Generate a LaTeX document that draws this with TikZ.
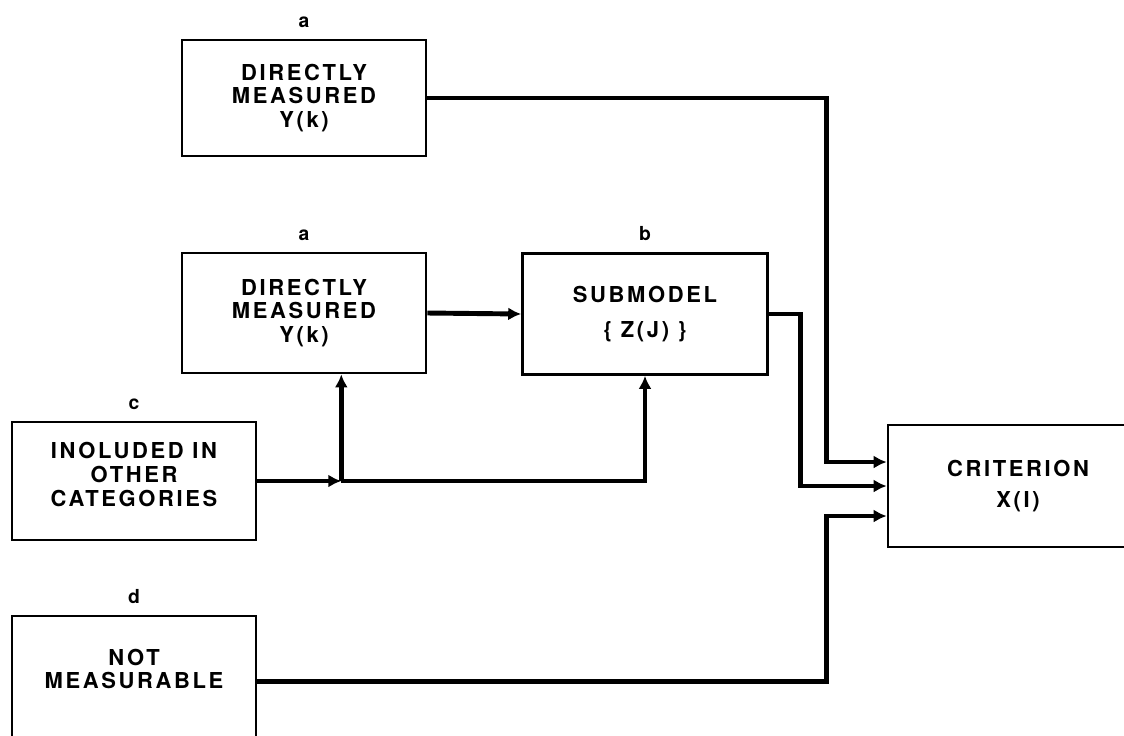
\documentclass[tikz,border=0pt]{standalone}
\usepackage{fontspec}
\setmainfont{TeX Gyre Heros}[LetterSpace=12]
\usetikzlibrary{arrows.meta,positioning,calc}
\tikzset{
  box/.style={draw,line width=1.5pt,align=center,font=\fontsize{12.5}{13.5}\selectfont\bfseries,inner sep=2pt},
  lbl/.style={font=\fontsize{11}{12}\selectfont\bfseries,label distance=3pt},
  arr/.style={-{Latex[length=2.6mm,width=2.6mm]},line width=2.8pt},
}

\begin{document}
\begin{tikzpicture}[x=0.02cm,y=-0.02cm]
\useasboundingbox (0,0) rectangle (1124,735);
\node[box,minimum width=4.88cm,minimum height=2.32cm,label={[lbl]above:a}] (ya) at (304,98) {DIRECTLY\\MEASURED\\Y(k)};
\node[box,minimum width=4.88cm,minimum height=2.4cm,label={[lbl]above:a}] (ym) at (304,313) {DIRECTLY\\MEASURED\\Y(k)};
\node[box,minimum width=4.9cm,minimum height=2.42cm,label={[lbl]above:b}] (sub) at (645,314) {SUBMODEL\\[6pt]\{ Z(J) \}};
\node[box,minimum width=4.88cm,minimum height=2.36cm,label={[lbl]above:c}] (inc) at (134,481) {INOLUDED IN\\OTHER\\CATEGORIES\\[-6pt]};
\node[box,minimum width=4.88cm,minimum height=4cm,label={[lbl]above:d}] (nm) at (134,716) {};
\node[font=\fontsize{12.5}{13.5}\selectfont\bfseries,align=center] (nmt) at (134,669) {NOT\\MEASURABLE};
\node[box,minimum width=5.2cm,minimum height=2.44cm] (crit) at (1018,486) {CRITERION\\[4pt]X(I)};
% to criterion
\draw[arr] (ya.east) -| ($(crit.west)+(-60,-24)$) -- ($(crit.west)+(0,-24)$);
\draw[arr] (sub.east) -| ($(crit.west)+(-86,0)$) -- (crit.west);
\draw[arr] ($(nm.north east)+(0,67)$) -| ($(crit.west)+(-60,30)$) -- ($(crit.west)+(0,30)$);
% inputs to submodel
\draw[arr] (ym.east) -- (sub.west);
\coordinate (j) at ($(inc.east)+(84,0)$);
\draw[arr] (inc.east) -- (j);
\draw[arr] (j) -- (j |- ym.south);
\draw[arr] (j) -| (sub.south);
\end{tikzpicture}
\end{document}
